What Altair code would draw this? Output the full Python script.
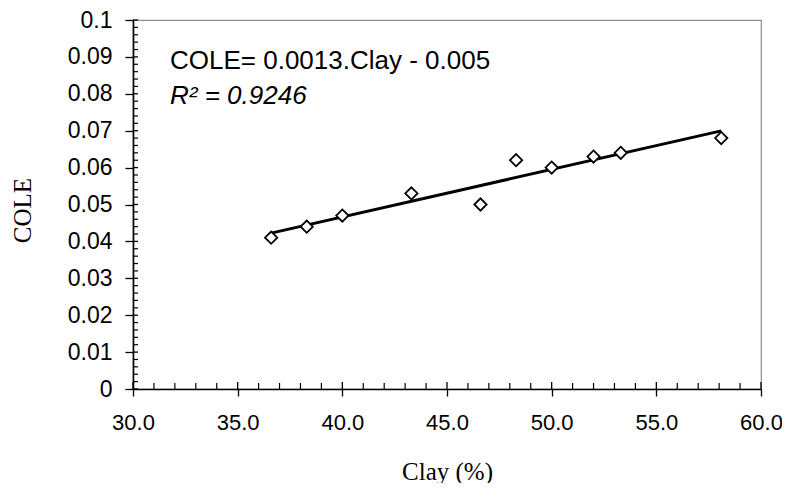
import altair as alt
import pandas as pd

# Data
clay = [36.6, 38.3, 40.0, 43.3, 46.6, 48.3, 50.0, 52.0, 53.3, 58.1]
cole = [0.041, 0.044, 0.047, 0.053, 0.050, 0.062, 0.060, 0.063, 0.064, 0.068]

x_ticks = [30, 35, 40, 45, 50, 55, 60]
x_minor = [v for v in range(31, 60) if v % 5 != 0]
y_ticks = [0, 0.01, 0.02, 0.03, 0.04, 0.05, 0.06, 0.07, 0.08, 0.09, 0.1]
y_minor = [round(i * 0.002, 3) for i in range(1, 50) if i % 5 != 0]

eq_text = "COLE= 0.0013.Clay - 0.005"
r2_text = "R\u00b2 = 0.9246"

W, H = 628, 369
SANS = "Liberation Sans"
SERIF = "Liberation Serif"

xs = alt.Scale(domain=[30, 60], nice=False, zero=False)
ys = alt.Scale(domain=[0, 0.1], nice=False, zero=True)

df = pd.DataFrame({"x": clay, "y": cole})

x_axis = alt.Axis(values=x_ticks, format=".1f", grid=False, labelOverlap=False, labelFlush=False,
                  labelFont=SANS, labelFontSize=22, labelColor="black", labelPadding=16,
                  tickSize=7, tickColor="black", tickWidth=1.3,
                  domainColor="black", domainWidth=1.6,
                  title="Clay (%)", titleFont=SERIF, titleFontSize=25, titleFontWeight="normal",
                  titleColor="black", titleY=70, titleBaseline="top")
y_axis = alt.Axis(values=y_ticks, format="~g", grid=False, labelOverlap=False, labelFlush=False,
                  labelFont=SANS, labelFontSize=23, labelColor="black", labelPadding=13,
                  tickSize=8, tickColor="black", tickWidth=1.3,
                  domainColor="black", domainWidth=1.6,
                  title="COLE", titleFont=SERIF, titleFontSize=25, titleFontWeight="normal",
                  titleColor="black", titleX=-111, titleY=190, titleAngle=270,
                  titleAlign="center", titleBaseline="middle")

points = alt.Chart(df).mark_point(shape="diamond", filled=False, fill="white", fillOpacity=1,
                                  stroke="black", strokeWidth=1.8, size=150, opacity=1).encode(
    x=alt.X("x:Q", scale=xs, axis=x_axis),
    y=alt.Y("y:Q", scale=ys, axis=y_axis),
)

trend = alt.Chart(df).transform_regression("x", "y").mark_line(color="black", strokeWidth=3).encode(
    x=alt.X("x:Q", scale=xs, axis=x_axis),
    y=alt.Y("y:Q", scale=ys, axis=y_axis),
)

xminor = alt.Chart(pd.DataFrame({"x": x_minor})).mark_rule(color="black", strokeWidth=1.2).encode(
    x=alt.X("x:Q", scale=xs, axis=x_axis), y=alt.value(H), y2=alt.value(H - 6))
xmajor = alt.Chart(pd.DataFrame({"x": x_ticks})).mark_rule(color="black", strokeWidth=1.3).encode(
    x=alt.X("x:Q", scale=xs, axis=x_axis), y=alt.value(H), y2=alt.value(H - 7))
yminor = alt.Chart(pd.DataFrame({"y": y_minor})).mark_rule(color="black", strokeWidth=1.2).encode(
    y=alt.Y("y:Q", scale=ys, axis=y_axis), x=alt.value(0), x2=alt.value(5))
ymajor = alt.Chart(pd.DataFrame({"y": y_ticks})).mark_rule(color="black", strokeWidth=1.3).encode(
    y=alt.Y("y:Q", scale=ys, axis=y_axis), x=alt.value(0), x2=alt.value(5))

eq = alt.Chart(pd.DataFrame({"t": [eq_text]})).mark_text(
    font=SANS, fontSize=26, align="left", baseline="middle", color="black").encode(
    text="t:N", x=alt.value(37), y=alt.value(41))
r2 = alt.Chart(pd.DataFrame({"t": [r2_text]})).mark_text(
    font=SANS, fontSize=26, fontStyle="italic", align="left", baseline="middle", color="black").encode(
    text="t:N", x=alt.value(37), y=alt.value(76))

chart = alt.layer(trend, points, xminor, xmajor, yminor, ymajor, eq, r2).properties(
    width=W, height=H,
    autosize=alt.AutoSizeParams(type="none"),
    padding={"left": 125, "top": 12, "right": 21, "bottom": 94},
    background="white",
).configure_view(stroke="#8c8c8c", strokeWidth=1.2).configure_axis(labelOverlap=False)

chart.save("out.html", embed_options={"renderer": "svg", "actions": False})
